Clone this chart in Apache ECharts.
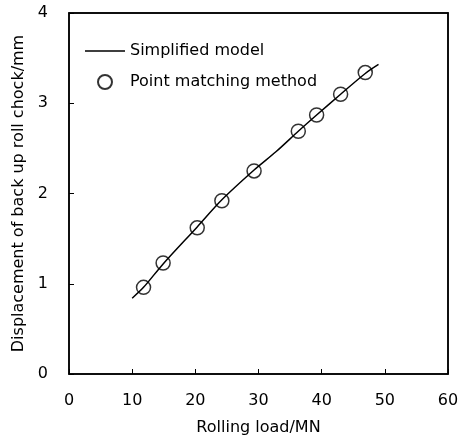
<!DOCTYPE html>
<html>
<head>
<meta charset="utf-8">
<script src="https://cdn.jsdelivr.net/npm/echarts@6/dist/echarts.min.js"></script>
<style>
  html, body { margin: 0; padding: 0; background: #fff; }
  #chart { width: 466px; height: 438px; }
</style>
</head>
<body>
<div id="chart"></div>
<script>
// simplified model curve
const modelLoad = [10, 11.8, 14.9, 20.3, 24.2, 29.3, 32.8, 36.3, 39.2, 43.0, 46.9, 49];
const modelDisp = [0.84, 0.96, 1.22, 1.63, 1.93, 2.26, 2.465, 2.69, 2.87, 3.1, 3.33, 3.43];

// point matching method
const pointLoad = [11.8, 14.9, 20.3, 24.2, 29.3, 36.3, 39.2, 43.0, 46.9];
const pointDisp = [0.96, 1.23, 1.62, 1.92, 2.25, 2.69, 2.87, 3.1, 3.34];

const xTicks = [0, 10, 20, 30, 40, 50, 60];
const yTicks = [0, 1, 2, 3, 4];

const font = "DejaVu Sans";

// plain horizontal stroke for the line legend (tiny corner dots keep the box 40x14)
const lineIcon =
  "path://M0,0h0.01v0.01h-0.01z M0,6.2H40V7.8H0Z M39.99,13.99h0.01v0.01h-0.01z";

const chart = echarts.init(document.getElementById("chart"));

// top / right axes only close the frame
const frameAxis = {
  show: true,
  axisLine: { show: true, onZero: false, lineStyle: { color: "#000", width: 1.5 } },
  axisTick: { show: false },
  axisLabel: { show: false },
  splitLine: { show: false },
};

const option = {
  animation: false,
  textStyle: { fontFamily: font, color: "#000" },
  grid: {
    left: 69,
    top: 13,
    right: 18,
    bottom: 64,
    outerBoundsMode: "none",
    show: true,
    borderColor: "#000",
    borderWidth: 1.5,
  },
  legend: {
    orient: "vertical",
    left: 85,
    top: 43,
    padding: 0,
    itemWidth: 40,
    itemHeight: 14,
    itemGap: 15,
    textStyle: { fontFamily: font, fontSize: 16, color: "#000" },
    data: [
      { name: "Simplified model", icon: lineIcon, itemStyle: { color: "#000" } },
      { name: "Point matching method" },
    ],
  },
  xAxis: [
    {
      type: "value",
      min: 0,
      max: 60,
      interval: 10,
      name: "Rolling load/MN",
      nameLocation: "middle",
      nameGap: 46,
      nameTextStyle: { fontFamily: font, fontSize: 16, color: "#000" },
      axisLine: { onZero: false, lineStyle: { color: "#000", width: 1.5 } },
      axisTick: { inside: true, length: 5, lineStyle: { color: "#000" } },
      axisLabel: {
        margin: 19,
        fontSize: 16,
        color: "#000",
        formatter: (v) => (xTicks.includes(v) ? String(v) : ""),
      },
      splitLine: { show: false },
    },
    Object.assign({ type: "value", position: "top", min: 0, max: 60 }, frameAxis),
  ],
  yAxis: [
    {
      type: "value",
      min: 0,
      max: 4,
      interval: 1,
      name: "Displacement of back up roll chock/mm",
      nameLocation: "middle",
      nameGap: 38,
      nameTextStyle: { fontFamily: font, fontSize: 16, color: "#000" },
      axisLine: { show: true, onZero: false, lineStyle: { color: "#000", width: 1.5 } },
      axisTick: { show: true, inside: true, length: 5, lineStyle: { color: "#000" } },
      axisLabel: {
        margin: 21,
        fontSize: 16,
        color: "#000",
        formatter: (v) => (yTicks.includes(v) ? String(v) : ""),
      },
      splitLine: { show: false },
    },
    Object.assign({ type: "value", position: "right", min: 0, max: 4 }, frameAxis),
  ],
  series: [
    {
      name: "Simplified model",
      type: "line",
      smooth: 0.3,
      symbol: "none",
      data: modelLoad.map((x, i) => [x, modelDisp[i]]),
      lineStyle: { color: "#000", width: 1.5 },
      itemStyle: { color: "#000" },
    },
    {
      name: "Point matching method",
      type: "scatter",
      symbol: "circle",
      symbolSize: 14,
      data: pointLoad.map((x, i) => [x, pointDisp[i]]),
      itemStyle: { color: "rgba(0,0,0,0)", borderColor: "#000", borderWidth: 1.5 },
    },
  ],
};

chart.setOption(option);
</script>
</body>
</html>
